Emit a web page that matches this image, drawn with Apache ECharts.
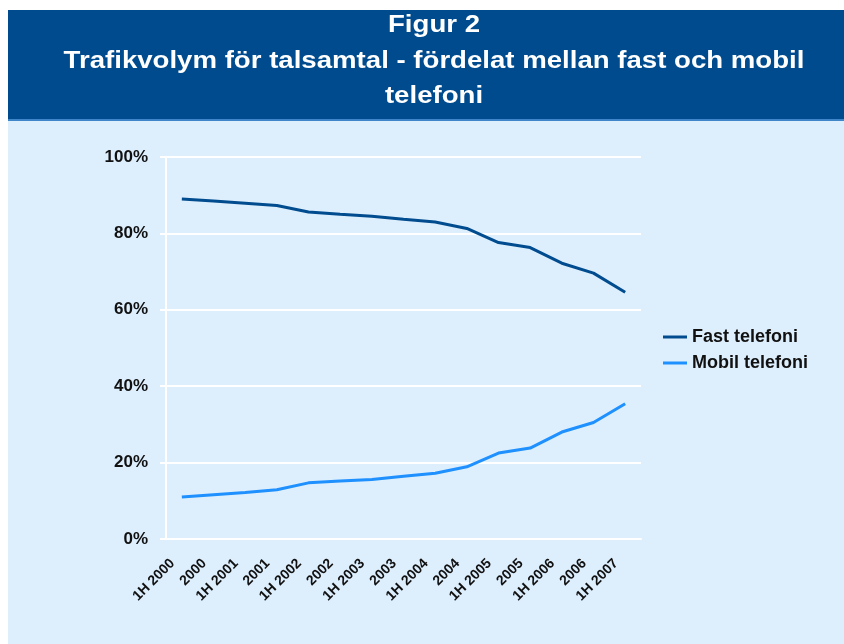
<!DOCTYPE html>
<html>
<head>
<meta charset="utf-8">
<script src="https://cdn.jsdelivr.net/npm/echarts@6/dist/echarts.min.js"></script>
<style>
  html, body { margin: 0; padding: 0; background: #fff; }
  #main { width: 844px; height: 644px; }
</style>
</head>
<body>
<div id="main"></div>
<script>
// kategorier (halvår / helår)
var periods = ['1H 2000', '2000', '1H 2001', '2001', '1H 2002', '2002', '1H 2003', '2003',
  '1H 2004', '2004', '1H 2005', '2005', '1H 2006', '2006', '1H 2007']
// andel av trafikvolym, %
var fastTelefoni = [89.0, 88.5, 87.9, 87.3, 85.6, 85.0, 84.5, 83.7, 83.0, 81.3, 77.6, 76.3, 72.2, 69.6, 64.6]
var mobilTelefoni = [11.0, 11.6, 12.2, 12.9, 14.7, 15.2, 15.6, 16.4, 17.2, 18.9, 22.5, 23.8, 28.0, 30.5, 35.4]
var titleLines = ['Figur 2', 'Trafikvolym för talsamtal - fördelat mellan fast och mobil', 'telefoni']

var myChart = echarts.init(document.getElementById('main'))

var colors = ['#004c8f', '#1e90ff']
var font = '"Liberation Sans", Arial, sans-serif'

var option = {
  backgroundColor: '#ddeefd',
  color: colors,
  animation: false,
  graphic: [
    // vit kant
    { type: 'rect', shape: { x: 0, y: 0, width: 844, height: 10 }, style: { fill: '#fff' } },
    { type: 'rect', shape: { x: 0, y: 0, width: 8, height: 644 }, style: { fill: '#fff' } },
    // rubrikfält
    { type: 'rect', shape: { x: 8, y: 10, width: 836, height: 110 }, style: { fill: '#004b8d' } },
    { type: 'rect', shape: { x: 8, y: 119, width: 836, height: 2 }, style: { fill: '#3f86c8' } },
    { type: 'text', x: 434, y: 26, scaleX: 1.2,
      style: { text: titleLines[0], fill: '#fff', font: 'bold 23px ' + font, textAlign: 'center', textVerticalAlign: 'middle' } },
    { type: 'text', x: 434, y: 62, scaleX: 1.2,
      style: { text: titleLines[1], fill: '#fff', font: 'bold 23px ' + font, textAlign: 'center', textVerticalAlign: 'middle' } },
    { type: 'text', x: 434, y: 97, scaleX: 1.2,
      style: { text: titleLines[2], fill: '#fff', font: 'bold 23px ' + font, textAlign: 'center', textVerticalAlign: 'middle' } }
  ],
  legend: {
    orient: 'vertical',
    left: 658,
    top: 322,
    icon: 'rect',
    itemWidth: 24,
    itemHeight: 3,
    itemGap: 6,
    textStyle: { fontFamily: font, fontWeight: 'bold', fontSize: 18, color: '#111', lineHeight: 20 },
    data: ['Fast telefoni', 'Mobil telefoni']
  },
  grid: {
    left: 166,
    right: 203,
    top: 157,
    bottom: 105
  },
  xAxis: {
    type: 'category',
    data: periods,
    axisLine: { lineStyle: { color: '#fff', width: 2 } },
    axisTick: { length: 5, lineStyle: { color: '#fff', width: 2 } },
    axisLabel: {
      interval: 0,
      rotate: 45,
      margin: 13,
      padding: [0, 13, 0, 0],
      fontFamily: font,
      fontWeight: 'bold',
      fontSize: 14,
      color: '#111'
    }
  },
  yAxis: {
    type: 'value',
    min: 0,
    max: 100,
    interval: 20,
    axisLine: { show: true, lineStyle: { color: '#fff', width: 2 } },
    axisTick: { show: true, length: 6, lineStyle: { color: '#fff', width: 2 } },
    splitLine: { lineStyle: { color: '#fff', width: 2 } },
    axisLabel: {
      formatter: '{value}%',
      margin: 18,
      fontFamily: font,
      fontWeight: 'bold',
      fontSize: 17,
      color: '#111'
    }
  },
  series: [
    {
      name: 'Fast telefoni',
      type: 'line',
      data: fastTelefoni,
      symbol: 'none',
      lineStyle: { width: 3 }
    },
    {
      name: 'Mobil telefoni',
      type: 'line',
      data: mobilTelefoni,
      symbol: 'none',
      lineStyle: { width: 3 }
    }
  ]
}

myChart.setOption(option)
</script>
</body>
</html>
